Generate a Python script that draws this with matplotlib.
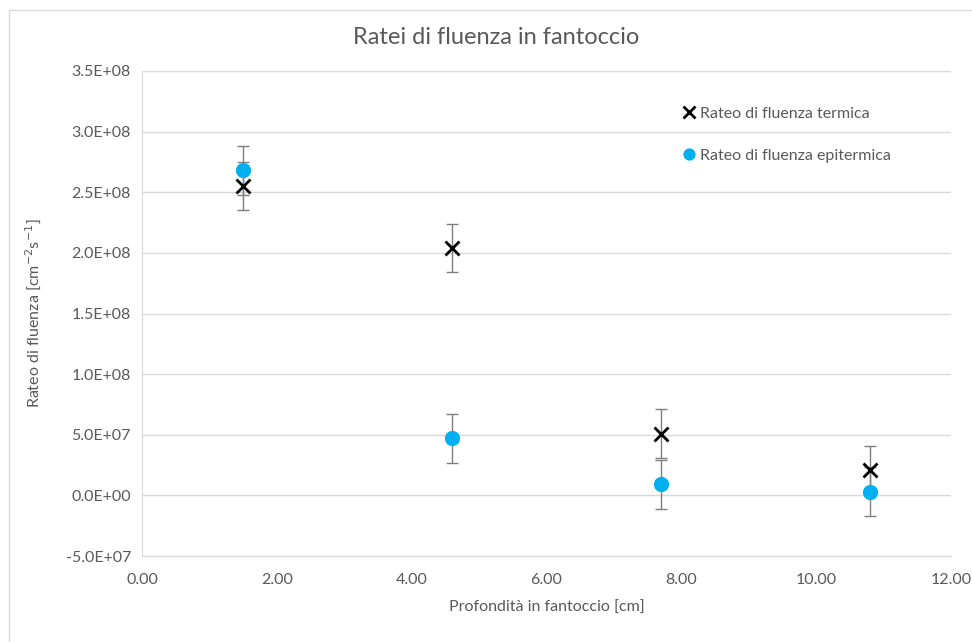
import matplotlib
matplotlib.use('Agg')
import matplotlib.pyplot as plt
from matplotlib.patches import Rectangle
from matplotlib.ticker import FuncFormatter

# Depth in phantom [cm]
depth = [1.5, 4.6, 7.7, 10.8]
# Thermal fluence rate and error
thermal = [2.55e8, 2.04e8, 0.51e8, 0.21e8]
thermal_err = [2.0e7, 2.0e7, 2.0e7, 2.0e7]
# Epithermal fluence rate and error
epithermal = [2.68e8, 0.47e8, 0.09e8, 0.03e8]
epithermal_err = [2.0e7, 2.0e7, 2.0e7, 2.0e7]

y_ticks = [-5e7, 0, 5e7, 1e8, 1.5e8, 2e8, 2.5e8, 3e8, 3.5e8]
x_ticks = [0, 2, 4, 6, 8, 10, 12]

text_color = '#595959'
grid_color = '#d9d9d9'

plt.rcParams['font.family'] = ['Lato', 'DejaVu Sans']

fig = plt.figure(figsize=(9.72, 6.42), dpi=100)
ax = fig.add_axes([142 / 972, 1 - 556 / 642, 809 / 972, 485 / 642])

# chart area border
fig.patches.append(Rectangle((9 / 972, -0.01), 1.0, 1 - 10 / 642 + 0.01,
                             transform=fig.transFigure, fill=False,
                             edgecolor='#d9d9d9', linewidth=1))

# error bars first, markers on top
err_kw = dict(fmt='none', ecolor='#7f7f7f', elinewidth=1, capsize=4, capthick=1, zorder=2)
ax.errorbar(depth, thermal, yerr=thermal_err, **err_kw)
ax.errorbar(depth, epithermal, yerr=epithermal_err, **err_kw)

ax.plot(depth, thermal, 'x', color='black', markersize=10, markeredgewidth=2,
        label='Rateo di fluenza termica', zorder=3)
ax.plot(depth, epithermal, 'o', color='#00b0f0', markersize=11, markeredgewidth=0,
        label='Rateo di fluenza epitermica', zorder=3)

ax.set_xlim(0, 12)
ax.set_ylim(-5e7, 3.5e8)
ax.set_xticks(x_ticks)
ax.set_yticks(y_ticks)
ax.xaxis.set_major_formatter(FuncFormatter(lambda v, p: f'{v:.2f}'))


def sci_fmt(v, p):
    s = f'{v:.1E}'
    mant, exp = s.split('E')
    sign = exp[0]
    return f'{mant}E{sign}{int(exp[1:]):02d}'


ax.yaxis.set_major_formatter(FuncFormatter(sci_fmt))
ax.grid(axis='y', color=grid_color, linewidth=1)
ax.set_axisbelow(True)
for side in ['top', 'right']:
    ax.spines[side].set_visible(False)
for side in ['left', 'bottom']:
    ax.spines[side].set_color(grid_color)
ax.tick_params(length=0, labelsize=11.5, colors=text_color, pad=8)
ax.tick_params(axis='x', pad=12)

fig.text(496 / 972, 1 - 38 / 642, 'Ratei di fluenza in fantoccio', fontsize=17,
         color=text_color, ha='center', va='center')
ax.set_xlabel('Profondità in fantoccio [cm]', fontsize=11.5, color=text_color, labelpad=10)
ax.set_ylabel('Rateo di fluenza [cm$^{-2}$s$^{-1}$]', fontsize=11.5, color=text_color, labelpad=16)

ax.legend(loc='upper left', bbox_to_anchor=(0.668, 0.927),
          frameon=False, handlelength=0.8, handletextpad=0.3, labelspacing=1.75,
          borderpad=0, borderaxespad=0, fontsize=11.5, labelcolor=text_color,
          markerscale=0.8)

plt.savefig('out.png', dpi=100)
